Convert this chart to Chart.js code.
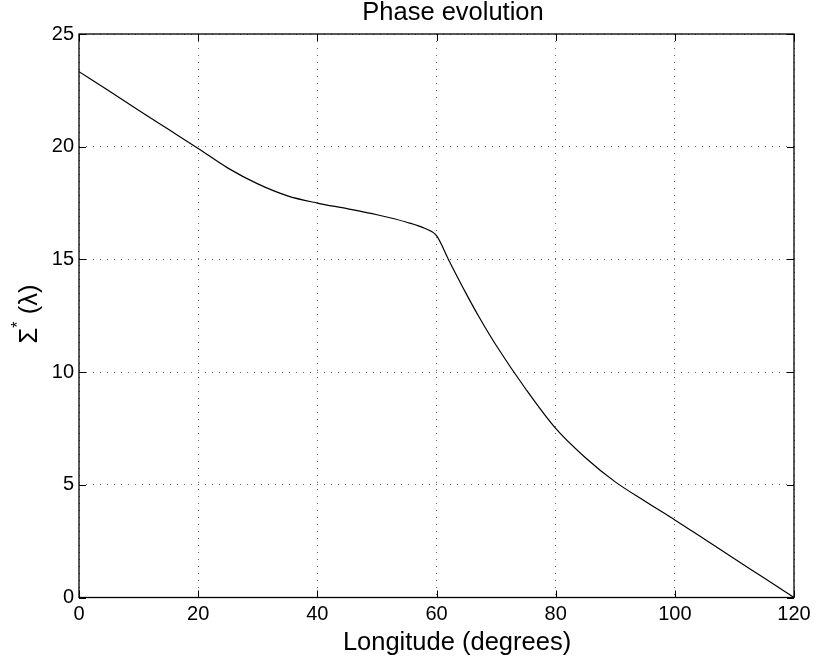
<!DOCTYPE html>
<html>
<head>
<meta charset="utf-8">
<script src="https://cdn.jsdelivr.net/npm/chart.js@4"></script>
<style>
    body { margin: 0; background: #fff; }
    canvas { display: block; }
</style>
</head>
<body>
<canvas id="phase-chart" width="819" height="665"></canvas>
<script>
// Данные кривой
const longitude = [0, 5, 10, 15, 20, 25, 30, 35, 40, 45, 50, 55, 58, 60, 62, 65, 67, 70, 75, 80, 85, 90, 95, 100, 105, 110, 115, 120];
const sigma = [23.33, 22.48, 21.62, 20.77, 19.92, 19.05, 18.35, 17.82, 17.5, 17.25, 16.98, 16.65, 16.38, 16.05, 15.0, 13.47, 12.51, 11.19, 9.24, 7.5, 6.2, 5.13, 4.27, 3.44, 2.58, 1.72, 0.86, 0];
const xTicks = [0, 20, 40, 60, 80, 100, 120];
const yTicks = [0, 5, 10, 15, 20, 25];

const titleText = 'Phase evolution';
const xLabel = 'Longitude (degrees)';

const FONT = '"Liberation Sans", Arial, Helvetica, sans-serif';

// Рамка, внутренние засечки и подписи в стиле MATLAB
const matlabFrame = {
    id: 'matlabFrame',
    afterDraw(chart) {
        const { ctx, chartArea: a, scales } = chart;
        ctx.save();
        ctx.strokeStyle = '#000';
        ctx.lineWidth = 1.3;
        ctx.strokeRect(a.left, a.top, a.right - a.left, a.bottom - a.top);

        ctx.lineWidth = 1;
        ctx.beginPath();
        xTicks.forEach(v => {
            const px = Math.round(scales.x.getPixelForValue(v)) + 0.5;
            ctx.moveTo(px, a.bottom); ctx.lineTo(px, a.bottom - 7);
            ctx.moveTo(px, a.top); ctx.lineTo(px, a.top + 7);
        });
        yTicks.forEach(v => {
            const py = Math.round(scales.y.getPixelForValue(v)) + 0.5;
            ctx.moveTo(a.left, py); ctx.lineTo(a.left + 7, py);
            ctx.moveTo(a.right, py); ctx.lineTo(a.right - 7, py);
        });
        ctx.stroke();

        // заголовок и подписи осей
        ctx.fillStyle = '#000';
        ctx.textAlign = 'center';
        ctx.textBaseline = 'middle';
        ctx.font = '25.5px ' + FONT;
        ctx.fillText(titleText, 453, 13);
        ctx.fillText(xLabel, 457, 643);

        // Σ* (λ) повернутая
        ctx.translate(28, 314);
        ctx.rotate(-Math.PI / 2);
        ctx.textAlign = 'left';
        ctx.textBaseline = 'alphabetic';
        const big = '25.5px ' + FONT;
        const small = '16px ' + FONT;
        ctx.font = big;
        const wS = ctx.measureText('Σ').width;
        const wP = ctx.measureText(' (λ)').width;
        ctx.font = small;
        const wA = ctx.measureText('*').width;
        let x0 = -(wS + wA + wP) / 2;
        ctx.font = big;
        ctx.fillText('Σ', x0, 9);
        ctx.font = small;
        ctx.fillText('*', x0 + wS, -5);
        ctx.font = big;
        ctx.fillText(' (λ)', x0 + wS + wA, 9);
        ctx.restore();
    }
};

const ctx = document.getElementById('phase-chart').getContext('2d');
new Chart(ctx, {
    type: 'line',
    data: {
        datasets: [{
            data: longitude.map((x, i) => ({ x, y: sigma[i] })),
            borderColor: '#000',
            borderWidth: 1.2,
            pointRadius: 0,
            cubicInterpolationMode: 'monotone',
            fill: false
        }]
    },
    options: {
        responsive: false,
        animation: false,
        layout: { padding: { top: 34, right: 25, left: 0, bottom: 0 } },
        plugins: {
            legend: { display: false },
            title: { display: false },
            tooltip: { enabled: false }
        },
        scales: {
            x: {
                type: 'linear',
                min: 0,
                max: 120,
                afterFit: scale => { scale.height = 67.5; },
                ticks: {
                    stepSize: 20,
                    color: '#000',
                    padding: 5,
                    maxRotation: 0,
                    font: { family: FONT, size: 20 }
                },
                grid: { color: '#666', lineWidth: 1, drawTicks: false },
                border: { display: false, dash: [1, 6] }
            },
            y: {
                min: 0,
                max: 25,
                afterFit: scale => { scale.width = 79; },
                ticks: {
                    stepSize: 5,
                    color: '#000',
                    padding: 5,
                    font: { family: FONT, size: 20 }
                },
                grid: { color: '#666', lineWidth: 1, drawTicks: false },
                border: { display: false, dash: [1, 6] }
            }
        }
    },
    plugins: [matlabFrame]
});
</script>
</body>
</html>
